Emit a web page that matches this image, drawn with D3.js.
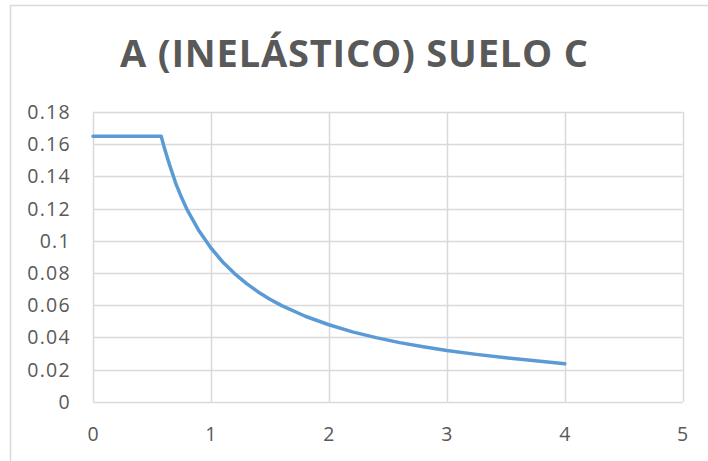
<!DOCTYPE html>
<html>
<head>
<meta charset="utf-8">
<script src="https://cdn.jsdelivr.net/npm/d3@7"></script>
<style>
  html, body { margin: 0; padding: 0; background: #fff; overflow: hidden; }
  svg { display: block; }
</style>
</head>
<body>
<svg id="chart" width="708" height="461"></svg>
<script>
// Spectral acceleration (inelastic), soil type C
const periods = [0, 0.578, 0.6, 0.62, 0.65, 0.7, 0.75, 0.8, 0.9, 1.0, 1.1, 1.2, 1.3, 1.4, 1.5, 1.6, 1.8, 2.0, 2.2, 2.4, 2.6, 2.8, 3.0, 3.25, 3.5, 3.75, 4.0];
const accel   = [0.165, 0.165, 0.159, 0.154, 0.147, 0.136, 0.127, 0.119, 0.106, 0.0955, 0.0868, 0.0796, 0.0735, 0.0682, 0.0637, 0.0597, 0.0531, 0.0478, 0.0434, 0.0398, 0.0367, 0.0341, 0.0318, 0.0294, 0.0273, 0.0255, 0.0236];

const xTicks = [0, 1, 2, 3, 4, 5];
const yTicks = [0, 0.02, 0.04, 0.06, 0.08, 0.1, 0.12, 0.14, 0.16, 0.18];
const yTickLabels = ["0", "0.02", "0.04", "0.06", "0.08", "0.1", "0.12", "0.14", "0.16", "0.18"];
const title = "A (INELÁSTICO) SUELO C";

const svg = d3.select("#chart");
const font = "'Open Sans', 'Liberation Sans', sans-serif";
const textColor = "#595959";
const gridColor = "#d9d9d9";

// chart frame (extends past the right and bottom edges)
svg.append("rect")
  .attr("x", 10.5).attr("y", 5.5)
  .attr("width", 760).attr("height", 520)
  .attr("fill", "none").attr("stroke", gridColor).attr("stroke-width", 1.5);

const x = d3.scaleLinear().domain([0, 5]).range([93, 682.7]);
const y = d3.scaleLinear().domain([0, 0.18]).range([401.7, 112]);

// title
svg.append("text")
  .attr("x", 354).attr("y", 67)
  .attr("text-anchor", "middle")
  .attr("font-family", font).attr("font-weight", 700)
  .attr("font-size", 38)
  .attr("fill", textColor)
  .attr("textLength", 468).attr("lengthAdjust", "spacing")
  .text(title);

// horizontal gridlines
svg.append("g").selectAll("line").data(yTicks).join("line")
  .attr("x1", x(0)).attr("x2", x(5))
  .attr("y1", d => Math.round(y(d)) + 0.5).attr("y2", d => Math.round(y(d)) + 0.5)
  .attr("stroke", gridColor).attr("stroke-width", 1.5);

// vertical gridlines
svg.append("g").selectAll("line").data(xTicks).join("line")
  .attr("y1", y(0.18)).attr("y2", y(0))
  .attr("x1", d => Math.round(x(d)) + 0.5).attr("x2", d => Math.round(x(d)) + 0.5)
  .attr("stroke", gridColor).attr("stroke-width", 1.5);

// y tick labels
svg.append("g").selectAll("text").data(yTicks).join("text")
  .attr("x", 71)
  .attr("y", d => y(d))
  .attr("dy", "0.36em")
  .attr("text-anchor", "end")
  .attr("font-family", font).attr("font-size", 19.5)
  .attr("letter-spacing", 1.3)
  .attr("fill", textColor)
  .text((d, i) => yTickLabels[i]);

// x tick labels
svg.append("g").selectAll("text").data(xTicks).join("text")
  .attr("x", d => x(d))
  .attr("y", 441)
  .attr("text-anchor", "middle")
  .attr("font-family", font).attr("font-size", 19.5)
  .attr("fill", textColor)
  .text(d => d);

// spectrum curve
const line = d3.line()
  .x(i => x(periods[i]))
  .y(i => y(accel[i]));

svg.append("path")
  .datum(d3.range(periods.length))
  .attr("d", line)
  .attr("fill", "none")
  .attr("stroke", "#5b9bd5")
  .attr("stroke-width", 3.5)
  .attr("stroke-linejoin", "round")
  .attr("stroke-linecap", "round");
</script>
</body>
</html>
